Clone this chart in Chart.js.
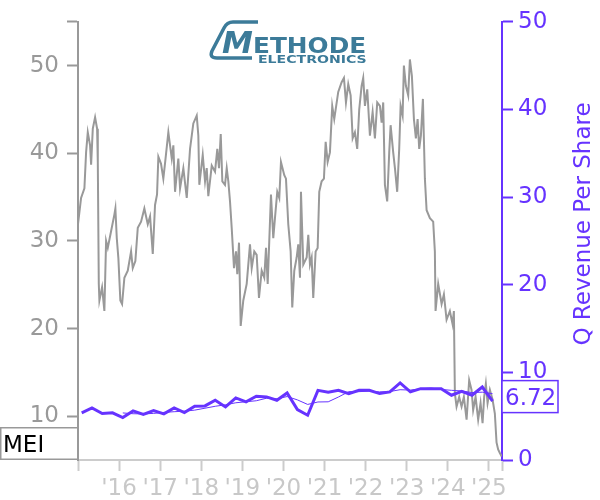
<!DOCTYPE html>
<html>
<head>
<meta charset="utf-8">
<script src="https://cdn.jsdelivr.net/npm/chart.js@4/dist/chart.umd.min.js"></script>
<style>
html,body{margin:0;padding:0;background:#fff;}
#wrap{width:600px;height:500px;position:relative;}
</style>
</head>
<body>
<div id="wrap"><canvas id="c" width="600" height="500"></canvas></div>
<script>
// ---- data ----
const priceDates = [2015.000,2015.075,2015.156,2015.197,2015.238,2015.294,2015.319,2015.360,2015.416,2015.465,2015.482,2015.506,2015.521,2015.586,2015.642,2015.684,2015.725,2015.805,2015.885,2015.910,2015.944,2015.983,2016.031,2016.073,2016.129,2016.211,2016.292,2016.333,2016.396,2016.455,2016.535,2016.615,2016.698,2016.754,2016.820,2016.875,2016.924,2016.956,2017.021,2017.077,2017.126,2017.199,2017.282,2017.321,2017.362,2017.442,2017.484,2017.564,2017.647,2017.727,2017.807,2017.890,2017.929,2017.953,2018.036,2018.092,2018.133,2018.172,2018.255,2018.335,2018.391,2018.432,2018.474,2018.513,2018.578,2018.620,2018.659,2018.700,2018.741,2018.797,2018.846,2018.877,2018.919,2018.960,2019.023,2019.106,2019.186,2019.228,2019.291,2019.349,2019.405,2019.471,2019.534,2019.576,2019.617,2019.697,2019.753,2019.794,2019.850,2019.899,2019.940,2020.021,2020.062,2020.118,2020.176,2020.215,2020.264,2020.322,2020.361,2020.403,2020.427,2020.483,2020.566,2020.605,2020.646,2020.687,2020.726,2020.784,2020.833,2020.872,2020.930,2020.986,2021.028,2021.076,2021.132,2021.188,2021.237,2021.334,2021.417,2021.473,2021.522,2021.578,2021.636,2021.685,2021.740,2021.796,2021.845,2021.903,2021.942,2021.984,2022.040,2022.105,2022.171,2022.227,2022.283,2022.349,2022.390,2022.429,2022.470,2022.526,2022.575,2022.609,2022.672,2022.714,2022.769,2022.818,2022.852,2022.901,2022.932,2022.981,2023.037,2023.078,2023.127,2023.176,2023.224,2023.266,2023.305,2023.346,2023.395,2023.443,2023.485,2023.565,2023.645,2023.686,2023.703,2023.767,2023.850,2023.906,2023.971,2024.051,2024.117,2024.149,2024.173,2024.214,2024.278,2024.336,2024.392,2024.458,2024.521,2024.579,2024.618,2024.677,2024.740,2024.798,2024.847,2024.886,2024.927,2024.969,2025.025,2025.090,2025.146,2025.187,2025.226,2025.268,2025.314];
const priceValues = [31.9,34.9,36.0,40.1,42.4,40.9,38.7,42.8,44.1,42.8,39.0,25.1,23.2,24.7,22.0,30.0,29.2,31.1,33.0,33.7,30.3,28.0,23.2,22.8,25.8,26.6,28.8,26.9,27.7,31.5,32.2,33.7,31.9,32.8,28.5,34.1,35.3,39.6,38.8,37.1,39.2,42.4,39.4,40.9,35.6,39.4,36.0,38.3,34.9,40.5,43.4,44.3,42.0,36.4,39.8,36.8,38.3,35.1,38.6,37.9,40.5,38.3,42.2,36.8,36.4,38.3,36.8,34.5,31.5,26.9,28.8,26.2,29.8,20.3,23.2,25.1,29.6,26.9,28.8,28.4,23.5,26.6,25.8,29.2,25.1,35.3,30.3,32.6,35.6,34.9,39.0,37.5,37.1,31.9,28.8,22.4,26.6,28.1,29.6,25.8,35.6,27.3,28.1,30.7,27.3,28.1,23.5,28.8,29.2,35.6,36.8,37.1,41.3,39.0,40.1,45.4,43.9,47.0,48.1,48.6,45.8,47.9,46.6,41.7,42.4,40.5,45.0,47.7,48.6,45.4,47.3,42.0,44.7,41.7,45.8,45.4,43.5,45.8,36.4,34.5,40.1,43.2,40.1,38.3,35.6,40.5,45.4,44.3,50.0,47.7,46.6,50.7,48.8,43.9,41.7,43.9,40.5,42.0,46.2,37.1,33.5,32.6,32.2,28.8,22.0,25.1,22.8,23.9,21.0,22.0,20.5,22.0,12.6,11.1,12.2,11.1,12.2,9.6,14.1,13.0,10.7,12.2,9.6,11.5,9.2,12.2,13.7,11.5,13.0,11.9,10.3,7.0,6.2,5.8,5.4];

const quarterDates = [2015.09,2015.34,2015.59,2015.84,2016.09,2016.34,2016.59,2016.84,2017.09,2017.34,2017.59,2017.84,2018.09,2018.34,2018.59,2018.84,2019.09,2019.34,2019.59,2019.84,2020.09,2020.34,2020.59,2020.84,2021.09,2021.34,2021.59,2021.84,2022.09,2022.34,2022.59,2022.84,2023.09,2023.34,2023.59,2023.84,2024.09,2024.34,2024.59,2024.84,2025.09];
const revPerShare = [5.38,5.94,5.30,5.38,4.85,5.60,5.19,5.64,5.27,5.94,5.41,6.13,6.17,6.82,6.06,7.08,6.63,7.27,7.20,6.82,7.65,5.76,5.11,7.95,7.73,7.95,7.58,7.95,7.95,7.58,7.77,8.79,7.77,8.14,8.14,8.14,7.39,7.84,7.39,8.33,6.72];
const avgDates = quarterDates.slice(4);
const revAvg = [5.37,5.28,5.26,5.32,5.43,5.51,5.57,5.69,5.91,6.13,6.30,6.53,6.65,6.76,7.05,6.98,7.24,6.86,6.34,6.62,6.64,7.19,7.80,7.80,7.86,7.77,7.81,8.02,7.98,8.12,8.21,8.05,7.95,7.88,7.69,7.74,7.57];

const xTickYears = [2015,2016,2017,2018,2019,2020,2021,2022,2023,2024,2025];
const leftTicks = [10,20,30,40,50];
const rightTicks = [0,10,20,30,40,50];
const ticker = 'MEI';
const lastValue = '6.72';
const rightTitle = 'Q Revenue Per Share';
const logoBig = 'M';
const logoTop = 'ETHODE';
const logoBottom = 'ELECTRONICS';

const X_MIN = 2015.0, X_MAX = 2025.32;
const PURPLE = '#6633ff';
const FONT = 'DejaVu Sans';

const toXY = (xs, ys) => xs.map((x, i) => ({x: x, y: ys[i]}));

const overlay = {
  id: 'overlay',
  afterDraw(chart) {
    const ctx = chart.ctx;
    const y1 = chart.scales.y1;
    ctx.save();
    // MEI box
    ctx.fillStyle = '#fff';
    ctx.fillRect(0.5, 427.5, 77, 32);
    ctx.strokeStyle = '#999';
    ctx.lineWidth = 1.5;
    ctx.strokeRect(0.75, 427.75, 77, 31.5);
    ctx.fillStyle = '#000';
    ctx.font = '23px "' + FONT + '"';
    ctx.textAlign = 'left';
    ctx.textBaseline = 'alphabetic';
    ctx.fillText(ticker, 3, 452);

    // last value box
    const cy = y1.getPixelForValue(parseFloat(lastValue)) - 4.5;
    ctx.fillStyle = '#fff';
    ctx.fillRect(502, cy - 16, 56, 32);
    ctx.strokeStyle = PURPLE;
    ctx.lineWidth = 1.5;
    ctx.strokeRect(502, cy - 16, 56, 32);
    ctx.fillStyle = PURPLE;
    ctx.fillText(lastValue, 505, cy + 8.5);

    // right title, reading bottom-to-top
    ctx.save();
    ctx.translate(590, 224);
    ctx.rotate(-Math.PI / 2);
    ctx.textAlign = 'center';
    ctx.fillStyle = PURPLE;
    ctx.font = '23px "' + FONT + '"';
    ctx.fillText(rightTitle, 0, 0);
    ctx.restore();

    // logo
    const teal = '#3c7b99';
    ctx.strokeStyle = teal;
    ctx.fillStyle = teal;
    ctx.lineWidth = 3.5;
    ctx.lineJoin = 'round';
    ctx.beginPath();
    ctx.moveTo(258, 22);
    ctx.lineTo(233, 22);
    ctx.quadraticCurveTo(227, 22, 224, 28);
    ctx.lineTo(212, 51);
    ctx.quadraticCurveTo(209, 58, 217, 58);
    ctx.lineTo(252, 58);
    ctx.stroke();
    ctx.font = 'italic bold 31px "' + FONT + '"';
    ctx.textAlign = 'left';
    ctx.fillText(logoBig, 222, 53);
    ctx.save();
    ctx.translate(253, 53);
    ctx.scale(1.18, 1);
    ctx.font = 'bold 21px "' + FONT + '"';
    ctx.fillText(logoTop, 0, 0);
    ctx.restore();
    ctx.save();
    ctx.translate(258, 63);
    ctx.scale(1.28, 1);
    ctx.font = 'bold 11px "' + FONT + '"';
    ctx.fillText(logoBottom, 0, 0);
    ctx.restore();
    ctx.restore();
  }
};

new Chart(document.getElementById('c'), {
  type: 'line',
  data: {
    datasets: [
      {
        label: 'Q Revenue Per Share',
        data: toXY(quarterDates, revPerShare),
        yAxisID: 'y1',
        borderColor: PURPLE,
        borderWidth: 3,
        pointRadius: 0,
        tension: 0,
        order: 0
      },
      {
        label: 'Avg',
        data: toXY(avgDates, revAvg),
        yAxisID: 'y1',
        borderColor: PURPLE,
        borderWidth: 1,
        pointRadius: 0,
        tension: 0,
        order: 1
      },
      {
        label: 'Price',
        data: toXY(priceDates, priceValues),
        yAxisID: 'y',
        borderColor: '#999999',
        borderWidth: 2,
        pointRadius: 0,
        tension: 0,
        order: 2
      }
    ]
  },
  options: {
    responsive: false,
    animation: false,
    events: [],
    layout: {padding: {top: 20, left: 0, right: 0, bottom: 0}},
    plugins: {legend: {display: false}, tooltip: {enabled: false}},
    scales: {
      x: {
        type: 'linear',
        min: X_MIN,
        max: X_MAX,
        afterBuildTicks: (s) => { s.ticks = xTickYears.map(v => ({value: v})).concat([{value: X_MAX}]); },
        afterFit: (s) => { s.height = 40; },
        border: {display: true, color: '#cccccc', width: 2},
        grid: {drawOnChartArea: false, drawTicks: true, tickLength: 11, tickWidth: 2, tickColor: '#cccccc'},
        ticks: {
          autoSkip: false, maxRotation: 0, padding: 4,
          color: '#c8c8c8',
          font: {family: FONT, size: 23},
          callback: (v) => (Number.isInteger(v) && v > X_MIN) ? "'" + String(v).slice(2) : ''
        }
      },
      y: {
        position: 'left',
        min: 5, max: 55,
        afterBuildTicks: (s) => { s.ticks = leftTicks.map(v => ({value: v})).concat([{value: 55}]); },
        afterFit: (s) => { s.width = 78; },
        border: {display: true, color: '#999999', width: 2},
        grid: {drawOnChartArea: false, drawTicks: true, tickLength: 11, tickWidth: 2, tickColor: '#999999'},
        ticks: {
          padding: 8, color: '#999999',
          font: {family: FONT, size: 23},
          callback: (v) => v === 55 ? '' : String(v)
        }
      },
      y1: {
        position: 'right',
        min: 0, max: 50,
        afterBuildTicks: (s) => { s.ticks = rightTicks.map(v => ({value: v})); },
        afterFit: (s) => { s.width = 98; },
        border: {display: true, color: PURPLE, width: 2},
        grid: {drawOnChartArea: false, drawTicks: true, tickLength: 11, tickWidth: 2, tickColor: PURPLE},
        ticks: {
          padding: 5, color: PURPLE,
          font: {family: FONT, size: 23},
          callback: (v) => String(v)
        }
      }
    }
  },
  plugins: [overlay]
});
</script>
</body>
</html>
